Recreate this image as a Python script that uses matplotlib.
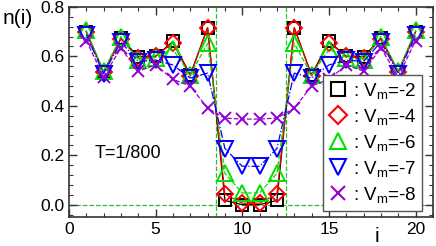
import numpy as np
import matplotlib
matplotlib.use("Agg")
import matplotlib.pyplot as plt
from matplotlib.lines import Line2D
from matplotlib.ticker import MultipleLocator

plt.rcParams['font.family'] = ['Liberation Sans', 'DejaVu Sans']
plt.rcParams['mathtext.fontset'] = 'custom'
plt.rcParams['mathtext.rm'] = 'Liberation Sans'
plt.rcParams['mathtext.it'] = 'Liberation Sans'

sites = np.arange(1, 21)

n_vm2 = [0.700, 0.538, 0.673, 0.599, 0.600, 0.660, 0.525, 0.716, 0.017, 0.000,
         0.000, 0.017, 0.716, 0.525, 0.660, 0.600, 0.599, 0.673, 0.538, 0.700]
n_vm4 = [0.700, 0.535, 0.670, 0.592, 0.600, 0.655, 0.520, 0.715, 0.042, 0.006,
         0.006, 0.042, 0.715, 0.520, 0.655, 0.600, 0.592, 0.670, 0.535, 0.700]
n_vm6 = [0.705, 0.540, 0.680, 0.585, 0.595, 0.628, 0.525, 0.652, 0.126, 0.047,
         0.047, 0.126, 0.652, 0.525, 0.628, 0.595, 0.585, 0.680, 0.540, 0.705]
n_vm7 = [0.688, 0.530, 0.658, 0.579, 0.585, 0.565, 0.512, 0.532, 0.227, 0.155,
         0.155, 0.227, 0.532, 0.512, 0.565, 0.585, 0.579, 0.658, 0.530, 0.688]
n_vm8 = [0.664, 0.518, 0.633, 0.540, 0.565, 0.507, 0.480, 0.390, 0.350, 0.346,
         0.346, 0.350, 0.390, 0.480, 0.507, 0.565, 0.540, 0.633, 0.518, 0.664]

series = [n_vm2, n_vm4, n_vm6, n_vm7, n_vm8]
labels = [": V$_{\\rm m}$=-2", ": V$_{\\rm m}$=-4", ": V$_{\\rm m}$=-6",
          ": V$_{\\rm m}$=-7", ": V$_{\\rm m}$=-8"]
colors = ["black", "#ff0000", "#00e000", "#0000ff", "#9400d3"]
markers = ["s", "D", "^", "v", "x"]
msizes = [9, 8, 11, 11, 9]
styles = ["-", "-", "--", "-.", "--"]

fig = plt.figure(figsize=(4.36, 2.46), dpi=100)
ax = fig.add_axes([0.158, 0.118, 0.835, 0.854])

# dashed guide lines
ax.axhline(0.0, color="#33bb33", ls="--", lw=0.9, zorder=1)
ax.axvline(8.5, color="#33bb33", ls="--", lw=0.9, zorder=1)
ax.axvline(12.5, color="#33bb33", ls="--", lw=0.9, zorder=1)

for y, c, m, ms, ls in zip(series, colors, markers, msizes, styles):
    ax.plot(sites, y, color=c, ls=ls, lw=0.9, marker=m, ms=ms,
            mfc="none", mec=c, mew=1.4, zorder=3)

ax.set_xlim(0, 21)
ax.set_ylim(-0.05, 0.8)
ax.xaxis.set_major_locator(MultipleLocator(5))
ax.xaxis.set_minor_locator(MultipleLocator(1))
ax.yaxis.set_major_locator(MultipleLocator(0.2))
ax.yaxis.set_minor_locator(MultipleLocator(0.04))
ax.yaxis.set_major_formatter(matplotlib.ticker.FormatStrFormatter("%.1f"))
ax.tick_params(which="both", direction="in", top=True, right=True,
               color="#333333", labelsize=12.5)
ax.tick_params(which="major", length=6, width=1)
ax.tick_params(which="minor", length=3, width=0.8)
for s in ax.spines.values():
    s.set_color("#333333")
    s.set_linewidth(1.2)

ax.text(0.07, 0.3, "T=1/800", transform=ax.transAxes, fontsize=13,
        va="center", ha="left")
fig.text(0.007, 0.925, "n(i)", fontsize=15, ha="left", va="center")
fig.text(0.865, 0.04, "i", fontsize=15, ha="center", va="center")

handles = [Line2D([], [], ls="none", marker=m, ms=ms + 1, mfc="none", mec=c, mew=1.5)
           for c, m, ms in zip(colors, markers, msizes)]
leg = ax.legend(handles, labels, loc="lower right", bbox_to_anchor=(0.97, 0.03),
                fontsize=13.5, handlelength=1.0, handletextpad=0.3,
                labelspacing=0.32, borderpad=0.3, borderaxespad=0.0,
                fancybox=False, framealpha=1, edgecolor="#555555")
leg.get_frame().set_linewidth(1.0)

fig.savefig("out.png", dpi=100)
